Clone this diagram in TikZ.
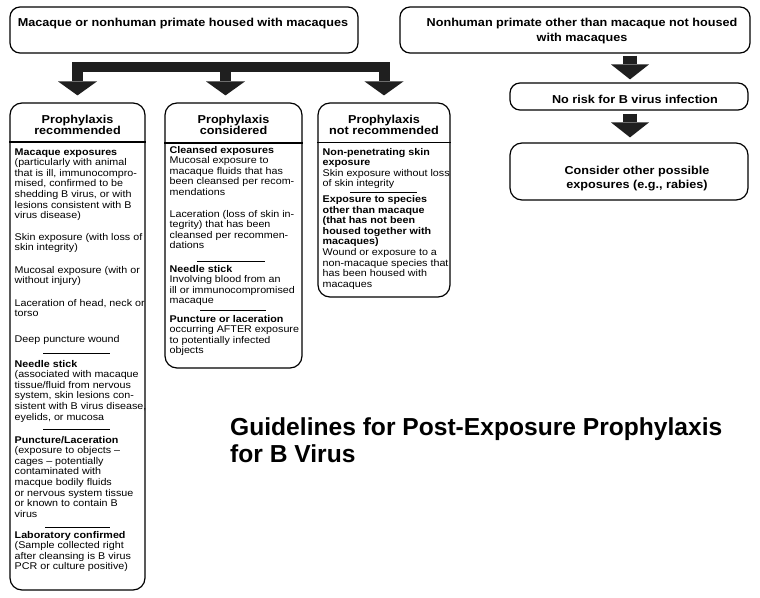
\documentclass[tikz,border=0pt]{standalone}
\usepackage{fontspec}
\setmainfont{Liberation Sans}[FakeStretch=1.1]
\newfontfamily\titlefont{Liberation Sans}
\usetikzlibrary{arrows.meta,calc}
\definecolor{arrowc}{gray}{0.12}
\begin{document}
\begin{tikzpicture}[x=1pt,y=-1pt,
  box/.style={draw=black, line width=1.2pt, rounded corners=#1, inner sep=0pt},
  box/.default=12pt,
  body/.style={anchor=base west, inner sep=0pt, align=left, font=\fontsize{9.75}{10.6}\selectfont},
  head/.style={anchor=base, inner sep=0pt, align=center, font=\fontsize{11.5}{11.7}\selectfont\bfseries},
  toptext/.style={anchor=base, inner sep=0pt, align=center, font=\fontsize{11.5}{14}\selectfont\bfseries},
  headsep/.style={line width=1.2pt},
  shortsep/.style={line width=0.9pt},
  barline/.style={draw=arrowc, line width=10pt},
  blockarrow/.style={draw=arrowc, line width=11pt, -{Triangle[width=39pt,length=14pt,line width=0pt]}},
  blockarrowR/.style={draw=arrowc, line width=14pt, -{Triangle[width=38pt,length=15pt,line width=0pt]}}
]
\useasboundingbox (0,0) rectangle (760,597);
\fill[white] (0,0) rectangle (760,597);

% top boxes (anchor base = baseline of the last line)
\node[box=10pt, minimum width=348pt, minimum height=46pt] (topL) at (184,30) {};
\node[toptext] (topLt) at (183,26) {Macaque or nonhuman primate housed with macaques};
\node[box=10pt, minimum width=350pt, minimum height=46pt] (topR) at (575,30) {};
\node[toptext] (topRt) at (582,41) {Nonhuman primate other than macaque not housed\\with macaques};

% right column boxes
\node[box=10pt, minimum width=238pt, minimum height=27pt] (norisk) at (629,96.5) {};
\node[toptext] (noriskt) at (635,103) {No risk for B virus infection};
\node[box=12pt, minimum width=238pt, minimum height=57pt] (consider) at (629,171.5) {};
\node[toptext] (considert) at (637,188.5) {Consider other possible\\exposures (e.g., rabies)};

% column boxes
\node[box, minimum width=135pt, minimum height=487pt] (colL) at (77.5,346.5) {};
\node[box, minimum width=137pt, minimum height=265pt] (colM) at (233.5,235.5) {};
\node[box, minimum width=132pt, minimum height=194pt] (colR) at (384,200) {};

% headers
\node[head] (hL) at (77.5,134.7) {Prophylaxis\\recommended};
\node[head] (hM) at (233.5,134.7) {Prophylaxis\\considered};
\node[head] (hR) at (384,134.7) {Prophylaxis\\not recommended};
\draw[headsep] (colL.west |- 0,142) -- (colL.east |- 0,142);
\draw[headsep] (colM.west |- 0,143) -- (colM.east |- 0,143);
\draw[headsep] (colR.west |- 0,142.5) -- (colR.east |- 0,142.5);

% left column text
\node[body] (l1) at (14.5,218.6) {\textbf{Macaque exposures}\\(particularly with animal\\that is ill, immunocompro-\\mised, confirmed to be\\shedding B virus, or with\\lesions consistent with B\\virus disease)};
\node[body] (l2) at (14.5,250.6) {Skin exposure (with loss of\\skin integrity)};
\node[body] (l3) at (14.5,283.6) {Mucosal exposure (with or\\without injury)};
\node[body] (l4) at (14.5,316.6) {Laceration of head, neck or\\torso};
\node[body] (l5) at (14.5,342) {Deep puncture wound};
\draw[shortsep] (43,353) -- (110,353);
\node[body] (l6) at (14.5,420) {\textbf{Needle stick}\\(associated with macaque\\tissue/fluid from nervous\\system, skin lesions con-\\sistent with B virus disease,\\eyelids, or mucosa};
\draw[shortsep] (43,429) -- (110,429);
\node[body] (l7) at (14.5,517.2) {\textbf{Puncture/Laceration}\\(exposure to objects --\\cages -- potentially\\contaminated with\\macque bodily fluids\\or nervous system tissue\\or known to contain B\\virus};
\draw[shortsep] (45,527) -- (110,527);
\node[body] (l8) at (14.5,569.8) {\textbf{Laboratory confirmed}\\(Sample collected right\\after cleansing is B virus\\PCR or culture positive)};

% middle column text
\node[body] (m1) at (169.5,195.4) {\textbf{Cleansed exposures}\\Mucosal exposure to\\macaque fluids that has\\been cleansed per recom-\\mendations};
\node[body] (m2) at (169.5,248.8) {Laceration (loss of skin in-\\tegrity) that has been\\cleansed per recommen-\\dations};
\draw[shortsep] (197,261) -- (265,261);
\node[body] (m3) at (169.5,303.8) {\textbf{Needle stick}\\Involving blood from an\\ill or immunocompromised\\macaque};
\draw[shortsep] (200,310) -- (266,310);
\node[body] (m4) at (169.5,353.8) {\textbf{Puncture or laceration}\\occurring AFTER exposure\\to potentially infected\\objects};

% right column text
\node[body] (r1) at (322.5,186.8) {\textbf{Non-penetrating skin}\\\textbf{exposure}\\Skin exposure without loss\\of skin integrity};
\draw[shortsep] (350,192) -- (417,192);
\node[body] (r2) at (322.5,287.3) {\textbf{Exposure to species}\\\textbf{other than macaque}\\\textbf{(that has not been}\\\textbf{housed together with}\\\textbf{macaques)}\\Wound or exposure to a\\non-macaque species that\\has been housed with\\macaques};

% title
\node[anchor=base west, inner sep=0pt, align=left, font=\titlefont\bfseries\fontsize{24.6}{27}\selectfont] (title) at (230,462) {Guidelines for Post-Exposure Prophylaxis\\for B Virus};

% block arrows, left branch
\coordinate (tip1) at ($(colL.north)+(0,-7)$);
\coordinate (tip2) at ($(colM.north)+(-8,-7)$);
\coordinate (tip3) at ($(colR.north)+(0,-7)$);
\coordinate (barL) at ($(tip1)+(-4.5,-28)$);
\coordinate (barR) at ($(tip3)+(5,-28)$);
\draw[barline] (barL) -- (barR);
\draw[blockarrow] ($(tip1)+(0,-33)$) -- (tip1);
\draw[blockarrow] ($(tip2)+(0,-33)$) -- (tip2);
\draw[blockarrow] ($(tip3)+(0,-33)$) -- (tip3);

% block arrows, right branch
\coordinate (tipA) at ($(norisk.north)+(1,-3)$);
\coordinate (tipB) at ($(consider.north)+(1,-5)$);
\draw[blockarrowR] ($(topR.south -| tipA)+(0,2)$) -- (tipA);
\draw[blockarrowR] ($(norisk.south -| tipB)+(0,3)$) -- (tipB);
\end{tikzpicture}
\end{document}
